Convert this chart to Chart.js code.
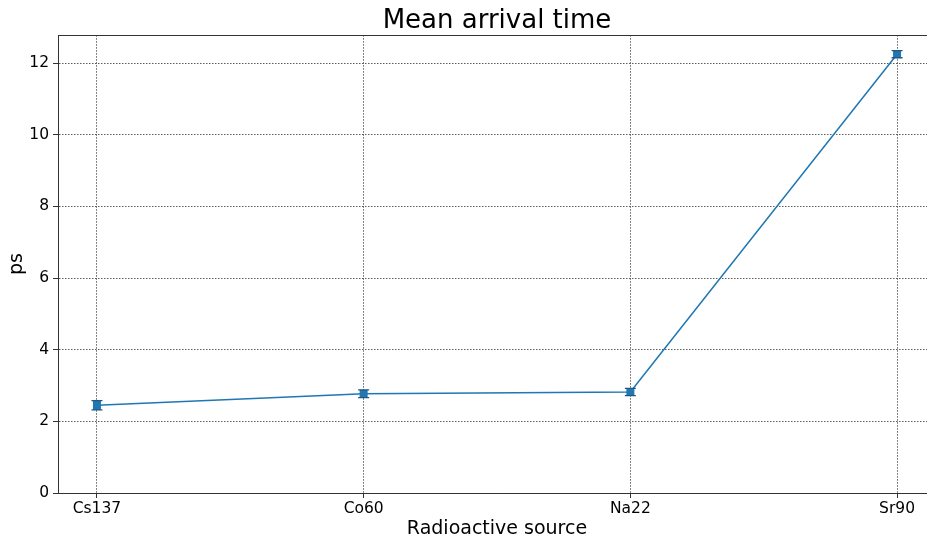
<!DOCTYPE html>
<html>
<head>
<meta charset="utf-8">
<script src="https://cdn.jsdelivr.net/npm/chart.js@4/dist/chart.umd.min.js"></script>
<style>
html,body{margin:0;padding:0;background:#fff;overflow:hidden;}
#clip{width:927px;height:541px;overflow:hidden;position:relative;}
#wrap{width:946px;height:541px;position:absolute;left:0;top:0;}
</style>
</head>
<body>
<div id="clip"><div id="wrap"><canvas id="c"></canvas></div></div>
<script>
const categories = ["Cs137", "Co60", "Na22", "Sr90"];
const meanValues = [2.45, 2.77, 2.82, 12.25];
const errorValues = [0.13, 0.11, 0.10, 0.10];
const yTicks = [0, 2, 4, 6, 8, 10, 12];

const FONT = "'DejaVu Sans', sans-serif";
const BLUE = "#1f77b4";

const errorBarPlugin = {
  id: "errorBars",
  afterDatasetsDraw(chart) {
    const ctx = chart.ctx;
    const xs = chart.scales.x, ys = chart.scales.y;
    ctx.save();
    meanValues.forEach((v, i) => {
      const x = xs.getPixelForValue(i);
      const yTop = ys.getPixelForValue(v + errorValues[i]);
      const yBot = ys.getPixelForValue(v - errorValues[i]);
      ctx.fillStyle = BLUE;
      ctx.fillRect(x - 4, yTop, 8, yBot - yTop);
      ctx.strokeStyle = "#23577d";
      ctx.lineWidth = 1.3;
      ctx.beginPath();
      ctx.moveTo(x - 5.5, yTop); ctx.lineTo(x + 5.5, yTop);
      ctx.moveTo(x - 5.5, yBot); ctx.lineTo(x + 5.5, yBot);
      ctx.stroke();
    });
    ctx.restore();
  },
  afterDraw(chart) {
    const ctx = chart.ctx, a = chart.chartArea;
    ctx.save();
    ctx.strokeStyle = "#333";
    ctx.lineWidth = 1;
    ctx.beginPath();
    ctx.moveTo(a.left, Math.round(a.top) + 0.5);
    ctx.lineTo(a.right, Math.round(a.top) + 0.5);
    ctx.moveTo(Math.round(a.right) + 0.5, a.top);
    ctx.lineTo(Math.round(a.right) + 0.5, a.bottom);
    ctx.stroke();
    ctx.restore();
  }
};

new Chart(document.getElementById("c"), {
  type: "line",
  data: {
    datasets: [{
      data: meanValues.map((v, i) => ({ x: i, y: v })),
      borderColor: BLUE,
      borderWidth: 1.5,
      pointRadius: 0,
      fill: false,
      tension: 0
    }]
  },
  options: {
    responsive: true,
    maintainAspectRatio: false,
    animation: false,
    layout: { padding: { left: 0, right: 10, top: 0, bottom: 0 } },
    plugins: {
      legend: { display: false },
      tooltip: { enabled: false },
      title: {
        display: true,
        fullSize: false,
        text: "Mean arrival time",
        color: "#000",
        font: { family: FONT, size: 26, weight: "normal" },
        padding: { top: 6, bottom: -2 }
      }
    },
    scales: {
      x: {
        type: "linear",
        min: -0.146,
        max: 3.146,
        afterBuildTicks(scale) { scale.ticks = categories.map((c, i) => ({ value: i })); },
        afterFit(scale) { scale.height = 48; },
        ticks: {
          callback: (v) => categories[v],
          color: "#000",
          font: { family: FONT, size: 15.5 },
          padding: 2,
          maxRotation: 0,
          autoSkip: false
        },
        grid: {
          color: "#333",
          lineWidth: 0.8,
          drawTicks: true,
          tickLength: 5,
          tickColor: "#333",
          tickWidth: 1,
          tickBorderDash: []
        },
        border: { display: true, color: "#333", width: 1, dash: [1.5, 1.5] },
        title: {
          display: true,
          text: "Radioactive source",
          color: "#000",
          font: { family: FONT, size: 19 },
          padding: { top: 0, bottom: 1 }
        }
      },
      y: {
        type: "linear",
        min: 0,
        max: 12.78,
        afterBuildTicks(scale) { scale.ticks = yTicks.map(v => ({ value: v })); },
        afterFit(scale) { scale.width = 58; },
        ticks: {
          color: "#000",
          font: { family: FONT, size: 15.5 },
          padding: 4
        },
        grid: {
          color: "#333",
          lineWidth: 0.8,
          drawTicks: true,
          tickLength: 5,
          tickColor: "#333",
          tickWidth: 1,
          tickBorderDash: []
        },
        border: { display: true, color: "#333", width: 1, dash: [1.5, 1.5] },
        title: {
          display: true,
          text: "ps",
          color: "#000",
          font: { family: FONT, size: 19 },
          padding: { top: 6, bottom: 0 }
        }
      }
    }
  },
  plugins: [errorBarPlugin]
});
</script>
</body>
</html>
